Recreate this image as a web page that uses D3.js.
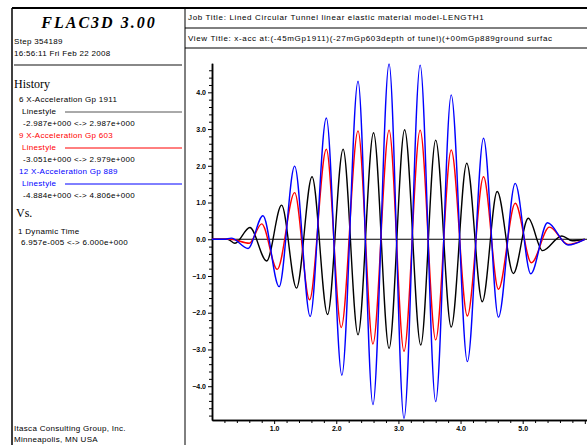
<!DOCTYPE html>
<html>
<head>
<meta charset="utf-8">
<script src="https://cdn.jsdelivr.net/npm/d3@7"></script>
<style>
  html, body { margin: 0; padding: 0; background: #fff; }
  svg { display: block; }
  .small { font-family: "Liberation Sans", Arial, sans-serif; font-size: 8px; letter-spacing: 0.3px; }
  .title { font-family: "Liberation Sans", Arial, sans-serif; font-size: 8px; letter-spacing: 0.65px; }
  .serif { font-family: "Liberation Serif", "Times New Roman", serif; }
  .tick text { font-family: "Liberation Sans", Arial, sans-serif; font-size: 7px; font-weight: bold; }
</style>
</head>
<body>
<div id="chart"></div>
<script>
  // 시간 축 (Dynamic Time, s)
  const timeDomain = [0, 6.04];
  const accelDomain = [-4.92, 4.79];
  const xMajorTicks = [1, 2, 3, 4, 5, 6];
  const xLabelTicks = [1, 2, 3, 4, 5];
  const yMajorTicks = [-4, -3, -2, -1, 0, 1, 2, 3, 4];

  // 6 X-Acceleration Gp 1911 (극값 위주로 읽음)
  const gp1911 = [
    [0, 0], [0.25, 0], [0.37, -0.11], [0.61, 0.32], [0.88, -0.59], [1.12, 0.93],
    [1.36, -1.33], [1.61, 1.70], [1.86, -2.05], [2.11, 2.45], [2.35, -2.60],
    [2.60, 2.90], [2.85, -2.97], [3.10, 2.98], [3.36, -2.88], [3.60, 2.70],
    [3.85, -2.39], [4.10, 2.07], [4.35, -1.70], [4.59, 1.30], [4.85, -0.93],
    [5.09, 0.57], [5.32, -0.31], [5.63, 0.09], [5.80, -0.04], [6.0, 0]
  ];

  // 9 X-Acceleration Gp 603
  const gp603 = [
    [0, 0], [0.3, 0], [0.6, -0.11], [0.80, 0.42], [1.05, -0.82], [1.33, 1.27],
    [1.57, -1.65], [1.84, 2.45], [2.08, -2.40], [2.35, 2.95], [2.59, -2.85],
    [2.85, 2.97], [3.09, -3.05], [3.35, 2.97], [3.60, -2.74], [3.85, 2.43],
    [4.11, -2.09], [4.37, 1.70], [4.61, -1.36], [4.88, 0.98], [5.14, -0.64],
    [5.43, 0.33], [5.73, -0.14], [6.0, 0]
  ];

  // 12 X-Acceleration Gp 889
  const gp889 = [
    [0, 0], [0.2, 0], [0.31, 0.03], [0.58, -0.25], [0.82, 0.64], [1.08, -1.29],
    [1.33, 1.99], [1.58, -2.10], [1.84, 3.30], [2.09, -3.70], [2.35, 4.30],
    [2.59, -4.50], [2.85, 4.77], [3.09, -4.88], [3.35, 4.74], [3.60, -4.42],
    [3.85, 3.93], [4.11, -3.33], [4.37, 2.75], [4.61, -2.12], [4.88, 1.52],
    [5.13, -0.94], [5.40, 0.45], [5.73, -0.155], [6.0, 0]
  ];

  const seriesList = [
    { name: '6 X-Acceleration Gp 1911', range: '-2.987e+000 <-> 2.987e+000', color: '#000000', legendLine: '#555555', data: gp1911 },
    { name: '9 X-Acceleration Gp 603', range: '-3.051e+000 <-> 2.979e+000', color: '#ff0000', legendLine: '#ff0000', data: gp603 },
    { name: '12 X-Acceleration Gp 889', range: '-4.884e+000 <-> 4.806e+000', color: '#0000ff', legendLine: '#0000ff', data: gp889 }
  ];

  const W = 587, H = 445;
  const svg = d3.select('#chart').append('svg')
    .attr('width', W).attr('height', H);

  svg.append('rect').attr('width', W).attr('height', H).attr('fill', '#fff');

  // 프레임
  svg.append('line').attr('x1', 12).attr('x2', W).attr('y1', 8).attr('y2', 8)
    .attr('stroke', '#000').attr('stroke-width', 2);
  svg.append('line').attr('x1', 12).attr('x2', 12).attr('y1', 8).attr('y2', H)
    .attr('stroke', '#000').attr('stroke-width', 1.5);
  svg.append('line').attr('x1', 185).attr('x2', 185).attr('y1', 8).attr('y2', H)
    .attr('stroke', '#000').attr('stroke-width', 1);
  svg.append('line').attr('x1', 185).attr('x2', W).attr('y1', 28).attr('y2', 28)
    .attr('stroke', '#000').attr('stroke-width', 1);
  svg.append('line').attr('x1', 185).attr('x2', W).attr('y1', 48).attr('y2', 48)
    .attr('stroke', '#000').attr('stroke-width', 1);
  svg.append('line').attr('x1', 14).attr('x2', 182).attr('y1', 65).attr('y2', 65)
    .attr('stroke', '#888', ).attr('stroke-width', 2);

  // 왼쪽 패널 텍스트
  const left = svg.append('g');
  left.append('text').attr('class', 'serif')
    .attr('x', 99).attr('y', 28).attr('text-anchor', 'middle')
    .attr('font-size', 16).attr('font-weight', 'bold').attr('font-style', 'italic')
    .attr('letter-spacing', 2)
    .text('FLAC3D 3.00');
  left.append('text').attr('class', 'small').attr('x', 14).attr('y', 44).text('Step 354189');
  left.append('text').attr('class', 'small').attr('x', 14).attr('y', 56).text('16:56:11 Fri Feb 22 2008');
  left.append('text').attr('class', 'serif').attr('x', 14).attr('y', 88)
    .attr('font-size', 12).text('History');

  seriesList.forEach((s, i) => {
    const y0 = 102 + i * 36;
    left.append('text').attr('class', 'small').attr('x', 19).attr('y', y0)
      .attr('fill', s.color).text(s.name);
    left.append('text').attr('class', 'small').attr('x', 22).attr('y', y0 + 12)
      .attr('fill', s.color).text('Linestyle');
    left.append('line').attr('x1', 65).attr('x2', 182).attr('y1', y0 + 10).attr('y2', y0 + 10)
      .attr('stroke', s.legendLine).attr('stroke-width', 1);
    left.append('text').attr('class', 'small').attr('x', 23).attr('y', y0 + 24)
      .attr('fill', '#000').text(s.range);
  });

  left.append('text').attr('class', 'serif').attr('x', 16).attr('y', 217)
    .attr('font-size', 12).text('Vs.');
  left.append('text').attr('class', 'small').attr('x', 18).attr('y', 234).text('1 Dynamic Time');
  left.append('text').attr('class', 'small').attr('x', 21).attr('y', 245).text('6.957e-005 <-> 6.000e+000');
  left.append('text').attr('class', 'small').attr('x', 14).attr('y', 431).text('Itasca Consulting Group, Inc.');
  left.append('text').attr('class', 'small').attr('x', 14).attr('y', 442).text('Minneapolis, MN  USA');

  // 상단 타이틀
  svg.append('text').attr('class', 'title').attr('x', 188).attr('y', 20)
    .text('Job Title: Lined Circular Tunnel linear elastic material model-LENGTH1');
  svg.append('text').attr('class', 'title').attr('x', 188).attr('y', 41)
    .text('View Title: x-acc at:(-45mGp1911)(-27mGp603depth of tunel)(+00mGp889ground surfac');

  // 스케일
  const x = d3.scaleLinear().domain(timeDomain).range([212, 587.3]);
  const y = d3.scaleLinear().domain(accelDomain).range([420, 63.3]);

  const xMinor = d3.range(0.2, 6.01, 0.2).filter(v => Math.abs(v - Math.round(v)) > 1e-6);
  const yMinor = d3.range(-4.8, 4.79, 0.2).filter(v => Math.abs(v - Math.round(v)) > 1e-6);

  // 보조 눈금
  svg.append('g').attr('transform', `translate(0,${y(accelDomain[0])})`)
    .call(d3.axisBottom(x).tickValues(xMinor).tickSize(3).tickSizeOuter(0).tickFormat(''));
  svg.append('g').attr('transform', `translate(${x(0)},0)`)
    .call(d3.axisLeft(y).tickValues(yMinor).tickSize(3).tickSizeOuter(0).tickFormat(''));

  // 주 눈금 + 라벨
  svg.append('g').attr('transform', `translate(0,${y(accelDomain[0])})`)
    .call(d3.axisBottom(x).tickValues(xMajorTicks).tickSize(4).tickSizeOuter(0).tickPadding(2)
      .tickFormat(d => xLabelTicks.includes(d) ? d3.format('.1f')(d) : ''));
  svg.append('g').attr('transform', `translate(${x(0)},0)`)
    .call(d3.axisLeft(y).tickValues(yMajorTicks).tickSize(4).tickSizeOuter(0).tickPadding(2)
      .tickFormat(d3.format('.1f')));

  svg.selectAll('.domain').attr('stroke', '#000').attr('stroke-width', 1.5);

  // 0 기준선
  svg.append('line')
    .attr('x1', x(0)).attr('x2', W)
    .attr('y1', y(0)).attr('y2', y(0))
    .attr('stroke', '#000').attr('stroke-width', 1);

  // 곡선
  const line = d3.line()
    .x(d => x(d[0]))
    .y(d => y(d[1]))
    .curve(d3.curveMonotoneX);

  seriesList.forEach(s => {
    svg.append('path')
      .datum(s.data)
      .attr('fill', 'none')
      .attr('stroke', s.color)
      .attr('stroke-width', 1.4)
      .attr('d', line);
  });
</script>
</body>
</html>
